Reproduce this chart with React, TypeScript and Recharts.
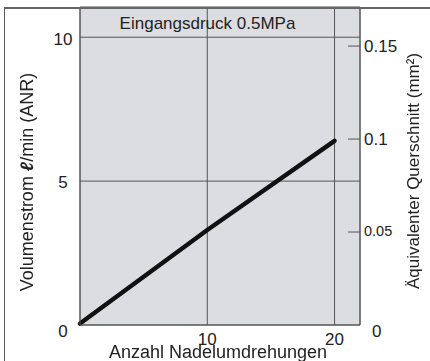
import React from "react";
import {
  LineChart,
  Line,
  XAxis,
  YAxis,
  CartesianGrid,
} from "recharts";

// Anzahl Nadelumdrehungen
const turns = [0, 10, 20];
// Volumenstrom l/min (ANR) bei 0.5 MPa
const flow = [0.05, 3.3, 6.4];
// Äquivalenter Querschnitt mm² (rechte Achse)
const area = [0, 0.051, 0.1];

const xTicks = [0, 10, 20];
const leftTicks = [0, 5, 10];
const rightTicks = [0, 0.05, 0.1, 0.15];

const data = turns.map((t, i) => ({ x: t, flow: flow[i], area: area[i] }));

const FONT = "'Liberation Sans', Arial, sans-serif";
const TEXT = "#222";
const GRID = "#555";

const LeftTick = (props: any) => {
  const { x, y, payload } = props;
  const v = payload.value;
  const dy = v === 0 ? 12 : v === 10 ? 8 : 6.5;
  return (
    <text x={x - 17} y={y + dy} textAnchor="middle" fontSize={17} fill={TEXT} fontFamily={FONT}>
      {v}
    </text>
  );
};

const RightTick = (props: any) => {
  const { x, y, payload } = props;
  const v = payload.value;
  if (v === 0) {
    return (
      <text x={x + 12} y={y + 12} textAnchor="start" fontSize={17} fill={TEXT} fontFamily={FONT}>
        0
      </text>
    );
  }
  const small = v === 0.05;
  return (
    <g>
      <line x1={x - 12} x2={x} y1={y} y2={y} stroke={GRID} strokeWidth={1} />
      <text x={x + 4} y={y + (small ? 3.5 : 6)} textAnchor="start" fontSize={small ? 14.5 : 17} fill={TEXT} fontFamily={FONT}>
        {v}
      </text>
    </g>
  );
};

const BottomTick = (props: any) => {
  const { x, y, payload } = props;
  if (payload.value === 0) return <g />;
  return (
    <text x={x} y={y + 20} textAnchor="middle" fontSize={17} fill={TEXT} fontFamily={FONT}>
      {payload.value}
    </text>
  );
};

export default function App() {
  return (
    <div style={{ position: "fixed", left: 0, top: 0, width: 430, height: 361, background: "#fff", fontFamily: FONT }}>
      <LineChart
        width={430}
        height={361}
        data={data}
        margin={{ top: 7, right: 0, bottom: 0, left: 0 }}
      >
        <CartesianGrid fill="#dcdde0" stroke={GRID} strokeWidth={1} yAxisId="left" />
        <XAxis
          type="number"
          dataKey="x"
          domain={[0, 22]}
          ticks={xTicks}
          height={36}
          tickSize={0}
          tickMargin={0}
          tickLine={false}
          axisLine={{ stroke: GRID }}
          tick={BottomTick}
        />
        <YAxis
          yAxisId="left"
          domain={[0, 11.05]}
          ticks={leftTicks}
          width={80}
          tickSize={0}
          tickMargin={0}
          tickLine={false}
          axisLine={{ stroke: GRID }}
          tick={LeftTick}
        />
        <YAxis
          yAxisId="right"
          orientation="right"
          domain={[0, 0.171]}
          ticks={rightTicks}
          width={70}
          tickSize={0}
          tickMargin={0}
          tickLine={false}
          axisLine={{ stroke: GRID }}
          tick={RightTick}
        />
        <Line
          yAxisId="right"
          dataKey="area"
          stroke="transparent"
          strokeWidth={0}
          dot={false}
          activeDot={false}
          isAnimationActive={false}
        />
        <Line
          yAxisId="left"
          dataKey="flow"
          stroke="#111"
          strokeWidth={4.5}
          strokeLinecap="round"
          dot={false}
          activeDot={false}
          isAnimationActive={false}
        />
      </LineChart>
      <div
        style={{
          position: "absolute",
          left: 4,
          top: 7,
          width: 426,
          height: 354,
          borderTop: "2px solid #666",
          borderLeft: "1px solid #555",
          boxSizing: "border-box",
          pointerEvents: "none",
        }}
      />
      <div style={{ position: "absolute", left: 80, width: 255, top: 14, textAlign: "center", fontSize: 17, color: TEXT, lineHeight: "20px" }}>
        Eingangsdruck 0.5MPa
      </div>
      <div style={{ position: "absolute", left: 78, width: 280, top: 342, textAlign: "center", fontSize: 18, color: TEXT, lineHeight: "20px" }}>
        Anzahl Nadelumdrehungen
      </div>
      <svg style={{ position: "absolute", left: 0, top: 0, pointerEvents: "none" }} width={430} height={361}>
        <text
          transform="translate(33, 182) rotate(-90)"
          textAnchor="middle"
          fontSize={18}
          fill={TEXT}
          fontFamily={FONT}
        >
          Volumenstrom <tspan fontStyle="italic" fontWeight="bold">ℓ</tspan>/min (ANR)
        </text>
        <text
          transform="translate(419, 171) rotate(-90)"
          textAnchor="middle"
          fontSize={17}
          fill={TEXT}
          fontFamily={FONT}
        >
          Äquivalenter Querschnitt (mm²)
        </text>
      </svg>
    </div>
  );
}
